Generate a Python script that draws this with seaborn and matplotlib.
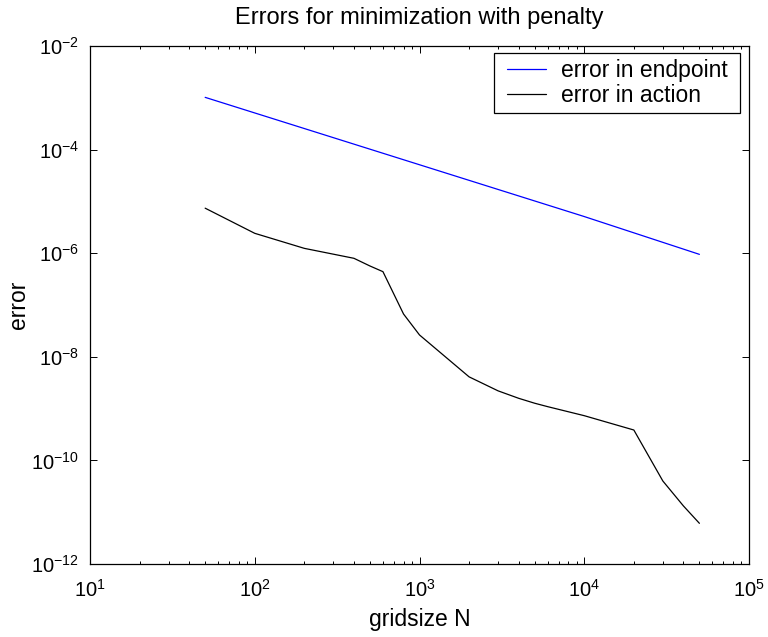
import numpy as np
import pandas as pd
import matplotlib
matplotlib.use("Agg")
import matplotlib.pyplot as plt
import matplotlib.ticker as mticker
from matplotlib.patches import Rectangle
import seaborn as sns

# Data
N_endpoint = [50, 100, 1000, 10000, 50000]
err_endpoint = [1.02e-3, 5.1e-4, 5.1e-5, 5.1e-6, 9.5e-7]

N_action = [50, 100, 200, 400, 500, 600, 800, 1000, 2000, 3000, 4000, 5000,
            6000, 10000, 20000, 30000, 40000, 50000]
err_action = [7.4e-6, 2.42e-6, 1.24e-6, 7.97e-7, 5.67e-7, 4.4e-7, 6.7e-8, 2.64e-8,
              4.1e-9, 2.2e-9, 1.58e-9, 1.27e-9, 1.09e-9, 7.3e-10, 3.86e-10,
              4.0e-11, 1.32e-11, 6.1e-12]

labels = ["error in endpoint", "error in action"]
colors = ["#0000ff", "#000000"]

df = pd.concat([
    pd.DataFrame({"N": N_endpoint, "err": err_endpoint, "series": labels[0]}),
    pd.DataFrame({"N": N_action, "err": err_action, "series": labels[1]}),
])

sns.set_style("white")
plt.rcParams["font.family"] = ["Liberation Sans", "DejaVu Sans"]
plt.rcParams["mathtext.fontset"] = "custom"
plt.rcParams["mathtext.rm"] = "Liberation Sans"
plt.rcParams["mathtext.it"] = "Liberation Sans"
for key in ["text.color", "axes.labelcolor", "xtick.color", "ytick.color",
            "xtick.labelcolor", "ytick.labelcolor"]:
    plt.rcParams[key] = "black"

fig = plt.figure(figsize=(7.68, 6.37), dpi=100)
ax = fig.add_axes([90 / 768, 1 - 564 / 637, 659 / 768, 518 / 637])

sns.lineplot(data=df, x="N", y="err", hue="series", palette=dict(zip(labels, colors)),
             linewidth=0.9, ax=ax, estimator=None, sort=False)

ax.set_xscale("log")
ax.set_yscale("log")
ax.set_xlim(1e1, 1e5)
ax.set_ylim(1e-12, 1e-2)

ax.xaxis.set_major_locator(mticker.FixedLocator([1e1, 1e2, 1e3, 1e4, 1e5]))
ax.xaxis.set_minor_locator(mticker.LogLocator(base=10, subs=np.arange(2, 10), numticks=20))
ax.xaxis.set_minor_formatter(mticker.NullFormatter())
ax.yaxis.set_major_locator(mticker.FixedLocator([1e-12, 1e-10, 1e-8, 1e-6, 1e-4, 1e-2]))
ax.yaxis.set_minor_locator(mticker.NullLocator())

ax.tick_params(which="both", direction="in", top=True, right=True, bottom=True, left=True,
               width=0.7, color="black", labelcolor="black")
ax.tick_params(which="major", length=5, labelsize=14.5, pad=8)
ax.tick_params(axis="x", which="major", pad=11)
ax.tick_params(which="minor", length=2.5)
for s in ax.spines.values():
    s.set_color("black")
    s.set_linewidth(0.9)

ax.set_title("Errors for minimization with penalty", fontsize=17, pad=16, color="black")
ax.set_xlabel("gridsize N", fontsize=16.5, labelpad=5, color="black")
ax.set_ylabel("error", fontsize=16.5, labelpad=1, color="black")

hpad = 7  # extra horizontal padding of the legend box, pixels
leg = ax.legend(loc="upper right", fontsize=16.5, frameon=False,
                bbox_to_anchor=(1 - (9 + hpad) / 659, 1 - 7 / 518), borderaxespad=0,
                handlelength=1.7, borderpad=0.25, labelspacing=0.1, handletextpad=0.65)
for t in leg.get_texts():
    t.set_color("black")

fig.canvas.draw()
bb = leg.get_window_extent()
inv = ax.transAxes.inverted()
(x0, y0), (x1, y1) = inv.transform([[bb.x0 - hpad, bb.y0], [bb.x1 + hpad, bb.y1]])
ax.add_patch(Rectangle((x0, y0), x1 - x0, y1 - y0, transform=ax.transAxes,
                       facecolor="white", edgecolor="black", linewidth=0.9,
                       zorder=leg.get_zorder() - 0.5, clip_on=False))

fig.savefig("out.png", dpi=100)
